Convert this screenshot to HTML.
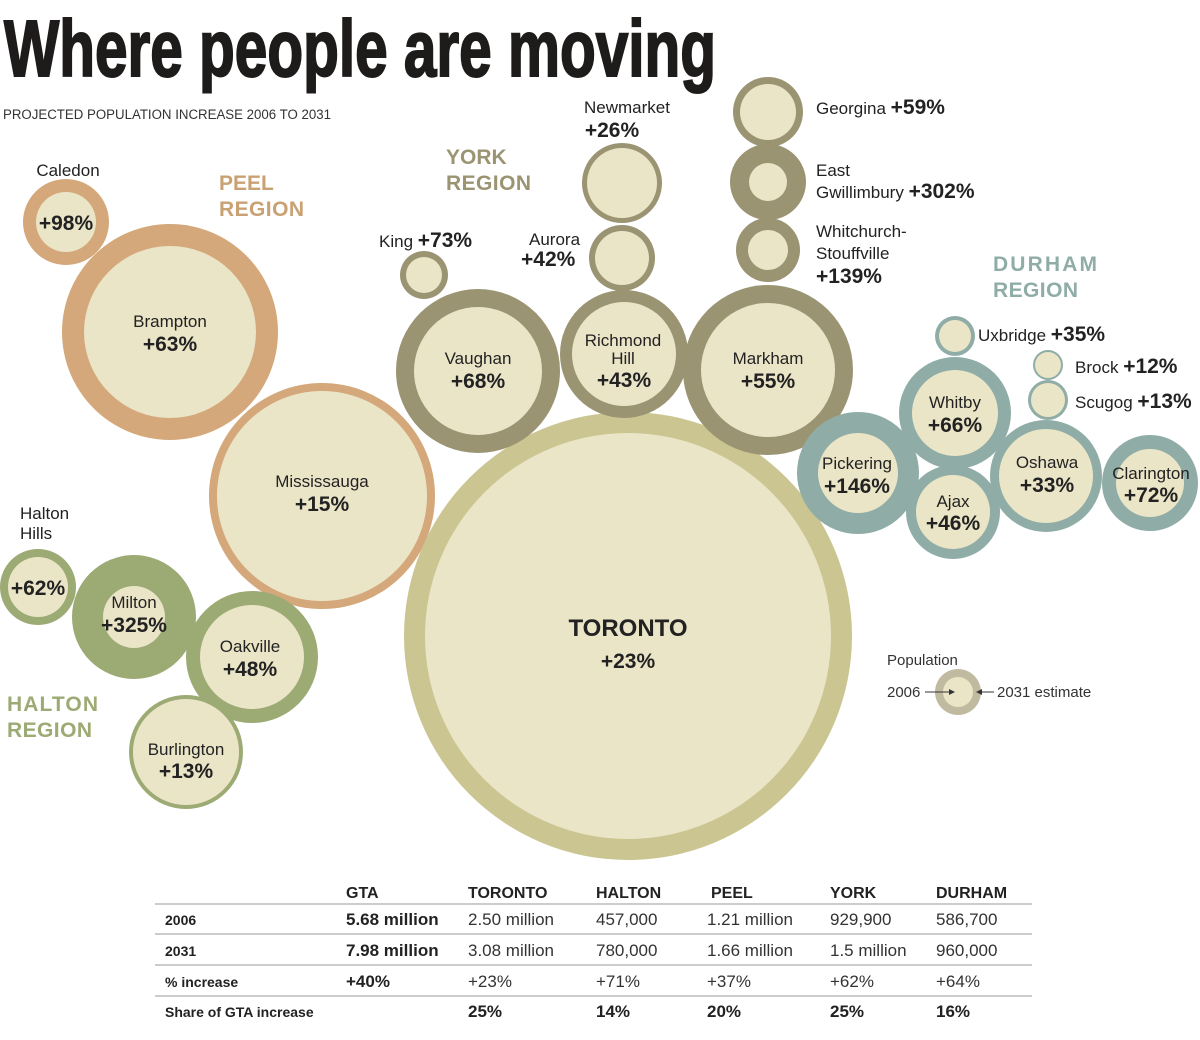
<!DOCTYPE html>
<html><head><meta charset="utf-8"><style>
body{margin:0;background:#fff;}
svg{display:block;font-family:"Liberation Sans",sans-serif;}
.n{font-size:17px;fill:#222;}
.p{font-size:21px;font-weight:bold;fill:#222;}
.r{font-size:21px;font-weight:bold;}
.th{font-size:16px;font-weight:bold;fill:#222;font-family:"Liberation Sans Narrow","Liberation Sans",sans-serif;}
.td{font-size:17px;fill:#333;font-family:"Liberation Sans Narrow","Liberation Sans",sans-serif;}
.tb{font-size:17px;font-weight:bold;fill:#222;font-family:"Liberation Sans Narrow","Liberation Sans",sans-serif;}
.tl{font-size:14px;font-weight:bold;fill:#222;font-family:"Liberation Sans Narrow","Liberation Sans",sans-serif;}
</style></head><body>
<svg width="1200" height="1040" viewBox="0 0 1200 1040">
<text x="4" y="76" font-family="'Liberation Sans Narrow','Liberation Sans',sans-serif" font-weight="bold" font-size="80" fill="#1e1b1b" stroke="#1e1b1b" stroke-width="2" textLength="712" lengthAdjust="spacingAndGlyphs">Where people are moving</text>
<text x="3" y="119" font-size="13.5" fill="#333" textLength="328" lengthAdjust="spacingAndGlyphs">PROJECTED POPULATION INCREASE 2006 TO 2031</text>
<g fill="#ebe5c8">
<circle cx="66" cy="222" r="43" fill="#d4a87a"/><circle cx="66" cy="222" r="30"/>
<circle cx="170" cy="332" r="108" fill="#d4a87a"/><circle cx="170" cy="332" r="86"/>
<circle cx="322" cy="496" r="113" fill="#d4a87a"/><circle cx="322" cy="496" r="105"/>
<circle cx="628" cy="636" r="224" fill="#cbc691"/><circle cx="628" cy="636" r="203"/>
<circle cx="478" cy="371" r="82" fill="#9b9473"/><circle cx="478" cy="371" r="64"/>
<circle cx="424" cy="275" r="24" fill="#9b9473"/><circle cx="424" cy="275" r="18"/>
<circle cx="622" cy="258" r="33" fill="#9b9473"/><circle cx="622" cy="258" r="27"/>
<circle cx="622" cy="183" r="40" fill="#9b9473"/><circle cx="622" cy="183" r="35"/>
<circle cx="624" cy="354" r="64" fill="#9b9473"/><circle cx="624" cy="354" r="52"/>
<circle cx="768" cy="370" r="85" fill="#9b9473"/><circle cx="768" cy="370" r="67"/>
<circle cx="768" cy="112" r="35" fill="#9b9473"/><circle cx="768" cy="112" r="28"/>
<circle cx="768" cy="182" r="38" fill="#9b9473"/><circle cx="768" cy="182" r="19"/>
<circle cx="768" cy="250" r="32" fill="#9b9473"/><circle cx="768" cy="250" r="20"/>
<circle cx="955" cy="336" r="20" fill="#8fada6"/><circle cx="955" cy="336" r="16"/>
<circle cx="1048" cy="365" r="15" fill="#8fada6"/><circle cx="1048" cy="365" r="13"/>
<circle cx="1048" cy="400" r="20" fill="#8fada6"/><circle cx="1048" cy="400" r="17"/>
<circle cx="955" cy="413" r="56" fill="#8fada6"/><circle cx="955" cy="413" r="43"/>
<circle cx="858" cy="473" r="61" fill="#8fada6"/><circle cx="858" cy="473" r="40"/>
<circle cx="953" cy="512" r="47" fill="#8fada6"/><circle cx="953" cy="512" r="37"/>
<circle cx="1046" cy="476" r="56" fill="#8fada6"/><circle cx="1046" cy="476" r="47"/>
<circle cx="1150" cy="483" r="48" fill="#8fada6"/><circle cx="1150" cy="483" r="34"/>
<circle cx="38" cy="587" r="38" fill="#9caa74"/><circle cx="38" cy="587" r="30"/>
<circle cx="134" cy="617" r="62" fill="#9caa74"/><circle cx="134" cy="617" r="31"/>
<circle cx="252" cy="657" r="66" fill="#9caa74"/><circle cx="252" cy="657" r="52"/>
<circle cx="186" cy="752" r="57" fill="#9caa74"/><circle cx="186" cy="752" r="53"/>
<circle cx="958" cy="692" r="23" fill="#c0bba0"/><circle cx="958" cy="692" r="15"/>
</g>
<text class="r" x="219" y="190" fill="#c9a173">PEEL</text><text class="r" x="219" y="216" fill="#c9a173" textLength="85">REGION</text>
<text class="r" x="446" y="164" fill="#9b9473">YORK</text><text class="r" x="446" y="190" fill="#9b9473" textLength="85">REGION</text>
<text class="r" x="993" y="271" fill="#8fada6" textLength="104">DURHAM</text><text class="r" x="993" y="297" fill="#8fada6" textLength="85">REGION</text>
<text class="r" x="7" y="711" fill="#9caa74" textLength="91">HALTON</text><text class="r" x="7" y="737" fill="#9caa74" textLength="85">REGION</text>
<g text-anchor="middle">
<text class="n" x="68" y="176">Caledon</text><text class="p" x="66" y="230">+98%</text>
<text class="n" x="170" y="327">Brampton</text><text class="p" x="170" y="351">+63%</text>
<text class="n" x="322" y="487">Mississauga</text><text class="p" x="322" y="511">+15%</text>
<text x="628" y="636" font-size="24" font-weight="bold" fill="#222">TORONTO</text><text class="p" x="628" y="668">+23%</text>
<text class="n" x="478" y="364">Vaughan</text><text class="p" x="478" y="388">+68%</text>
<text class="n" x="623" y="346">Richmond</text><text class="n" x="623" y="364">Hill</text><text class="p" x="624" y="387">+43%</text>
<text class="n" x="768" y="364">Markham</text><text class="p" x="768" y="388">+55%</text>
<text class="n" x="627" y="113">Newmarket</text><text class="p" x="612" y="137">+26%</text>
<text class="n" x="955" y="408">Whitby</text><text class="p" x="955" y="432">+66%</text>
<text class="n" x="857" y="469">Pickering</text><text class="p" x="857" y="493">+146%</text>
<text class="n" x="953" y="507">Ajax</text><text class="p" x="953" y="530">+46%</text>
<text class="n" x="1047" y="468">Oshawa</text><text class="p" x="1047" y="492">+33%</text>
<text class="n" x="1151" y="479">Clarington</text><text class="p" x="1151" y="502">+72%</text>
<text class="p" x="38" y="595">+62%</text>
<text class="n" x="134" y="608">Milton</text><text class="p" x="134" y="632">+325%</text>
<text class="n" x="250" y="652">Oakville</text><text class="p" x="250" y="676">+48%</text>
<text class="n" x="186" y="755">Burlington</text><text class="p" x="186" y="778">+13%</text>
</g>
<text class="n" x="379" y="247">King <tspan class="p">+73%</tspan></text>
<text class="n" x="529" y="245">Aurora</text><text class="p" x="521" y="266">+42%</text>
<text class="n" x="816" y="114">Georgina <tspan class="p">+59%</tspan></text>
<text class="n" x="816" y="176">East</text><text class="n" x="816" y="198">Gwillimbury <tspan class="p">+302%</tspan></text>
<text class="n" x="816" y="237">Whitchurch-</text><text class="n" x="816" y="259">Stouffville</text><text class="p" x="816" y="283">+139%</text>
<text class="n" x="978" y="341">Uxbridge <tspan class="p">+35%</tspan></text>
<text class="n" x="1075" y="373">Brock <tspan class="p">+12%</tspan></text>
<text class="n" x="1075" y="408">Scugog <tspan class="p">+13%</tspan></text>
<text class="n" x="20" y="519">Halton</text><text class="n" x="20" y="539">Hills</text>
<text x="887" y="665" font-size="15" fill="#333">Population</text>
<text x="887" y="697" font-size="15" fill="#333">2006</text>
<text x="997" y="697" font-size="15" fill="#333">2031 estimate</text>
<line x1="925" y1="692" x2="952" y2="692" stroke="#333"/><path d="M955 692l-6-3v6z" fill="#333"/>
<line x1="978" y1="692" x2="994" y2="692" stroke="#333"/><path d="M976 692l6-3v6z" fill="#333"/>
<g stroke="#bbb" stroke-width="1.5">
<line x1="155" y1="904" x2="1032" y2="904"/><line x1="155" y1="934" x2="1032" y2="934"/>
<line x1="155" y1="965" x2="1032" y2="965"/><line x1="155" y1="996" x2="1032" y2="996"/>
</g>
<text class="th" x="346" y="898">GTA</text><text class="th" x="468" y="898">TORONTO</text><text class="th" x="596" y="898">HALTON</text><text class="th" x="711" y="898">PEEL</text><text class="th" x="830" y="898">YORK</text><text class="th" x="936" y="898">DURHAM</text>
<text class="tl" x="165" y="925">2006</text><text class="tb" x="346" y="925">5.68 million</text><text class="td" x="468" y="925">2.50 million</text><text class="td" x="596" y="925">457,000</text><text class="td" x="707" y="925">1.21 million</text><text class="td" x="830" y="925">929,900</text><text class="td" x="936" y="925">586,700</text>
<text class="tl" x="165" y="956">2031</text><text class="tb" x="346" y="956">7.98 million</text><text class="td" x="468" y="956">3.08 million</text><text class="td" x="596" y="956">780,000</text><text class="td" x="707" y="956">1.66 million</text><text class="td" x="830" y="956">1.5 million</text><text class="td" x="936" y="956">960,000</text>
<text class="tl" x="165" y="987">% increase</text><text class="tb" x="346" y="987">+40%</text><text class="td" x="468" y="987">+23%</text><text class="td" x="596" y="987">+71%</text><text class="td" x="707" y="987">+37%</text><text class="td" x="830" y="987">+62%</text><text class="td" x="936" y="987">+64%</text>
<text class="tl" x="165" y="1017">Share of GTA increase</text><text class="tb" x="468" y="1017">25%</text><text class="tb" x="596" y="1017">14%</text><text class="tb" x="707" y="1017">20%</text><text class="tb" x="830" y="1017">25%</text><text class="tb" x="936" y="1017">16%</text>
</svg>
</body></html>
